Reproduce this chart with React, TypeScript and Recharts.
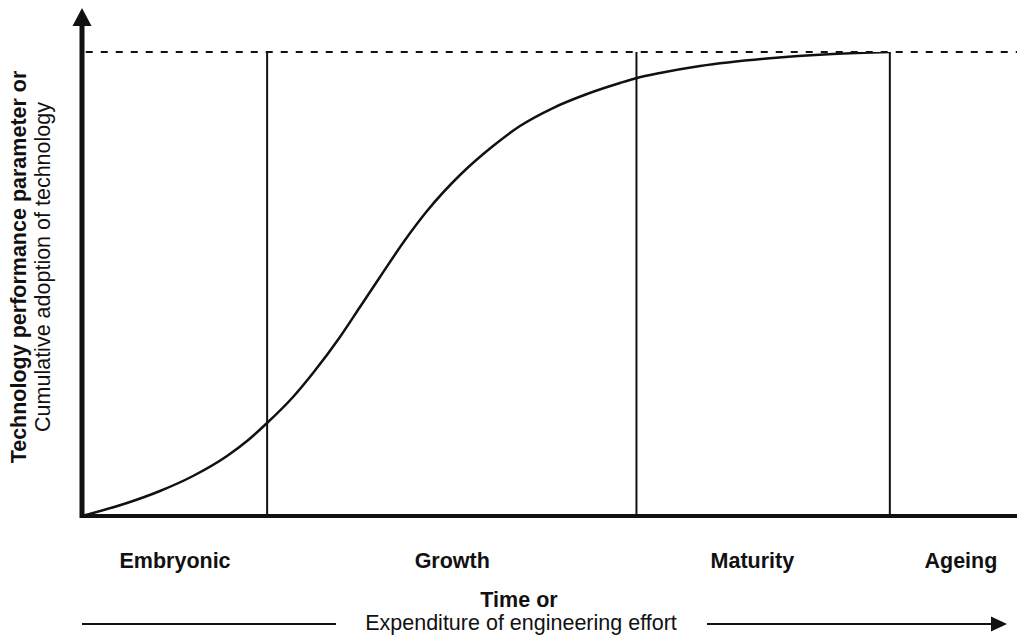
import React from 'react';
import { LineChart, Line, XAxis, YAxis, ReferenceLine } from 'recharts';

// S-curve: time / effort (0..100) vs performance (0..100)
const curveX = [0, 4.81, 8.34, 11.87, 15.51, 17.65, 19.79, 22.57, 24.71, 27.59, 29.73, 31.87, 34.55, 36.9, 40.43, 43.96, 46.84, 50.37, 54.01, 57.54, 59.36, 61.82, 66.1, 73.26, 80.32, 86.42];
const curveY = [0, 2.8, 5.39, 8.62, 12.93, 16.16, 20.04, 25.65, 30.82, 38.58, 45.04, 51.51, 59.48, 65.73, 73.49, 79.74, 84.05, 87.93, 90.95, 93.32, 94.4, 95.47, 96.98, 98.6, 99.57, 100];

const phaseNames = ['Embryonic', 'Growth', 'Maturity', 'Ageing'];
const phaseCenters = [9.95, 39.6, 71.7, 94.0];
const phaseBoundaries = [19.8, 59.3, 86.4];
const plateauLevel = 100;
const yAxisTop = 109.5;

const yLabelBold = 'Technology performance parameter or';
const yLabelRegular = 'Cumulative adoption of technology';
const xLabelBold = 'Time or';
const xLabelRegular = 'Expenditure of engineering effort';

const data = curveX.map((x, i) => ({ x, y: curveY[i] }));

const FONT = '"Liberation Sans", Arial, Helvetica, sans-serif';
const INK = '#111';
const FS = 21.5;

const YAxisArrow = (p: any) => {
  const { x1, y1, x2, y2 } = p;
  return (
    <g>
      <line x1={x1} y1={y1 + 2} x2={x2} y2={y2 + 15} stroke={INK} strokeWidth={5} />
      <polygon points={`${x2},${y2} ${x2 - 9.5},${y2 + 18} ${x2 + 9.5},${y2 + 18}`} fill={INK} />
    </g>
  );
};

const PhaseTick = (p: any) => {
  const { x, y, index } = p;
  return (
    <text x={x} y={y + 52} textAnchor="middle" fontFamily={FONT} fontWeight="bold" fontSize={FS} fill={INK}>
      {phaseNames[index]}
    </text>
  );
};

export default function App() {
  return (
    <div style={{ position: 'absolute', left: 0, top: 0, width: 1017, height: 644, background: '#fff' }}>
      <LineChart width={1017} height={644} data={data} margin={{ top: 52, right: 0, bottom: 68, left: 82 }}>
        <XAxis
          dataKey="x"
          type="number"
          domain={[0, 100]}
          allowDataOverflow
          ticks={phaseCenters}
          interval={0}
          axisLine={false}
          tickLine={false}
          tickSize={0}
          tickMargin={0}
          height={60}
          tick={<PhaseTick />}
        />
        <YAxis type="number" domain={[0, 100]} allowDataOverflow hide />
        <ReferenceLine
          segment={[{ x: 0.4, y: plateauLevel }, { x: 100, y: plateauLevel }]}
          stroke={INK}
          strokeWidth={2}
          strokeDasharray="7 8"
          ifOverflow="visible"
        />
        {phaseBoundaries.map((b) => (
          <ReferenceLine
            key={b}
            segment={[{ x: b, y: 0 }, { x: b, y: plateauLevel }]}
            stroke={INK}
            strokeWidth={2}
            ifOverflow="visible"
          />
        ))}
        <ReferenceLine
          segment={[{ x: 0, y: 0 }, { x: 100, y: 0 }]}
          stroke={INK}
          strokeWidth={4}
          ifOverflow="visible"
        />
        <ReferenceLine
          segment={[{ x: 0, y: 0 }, { x: 0, y: yAxisTop }]}
          ifOverflow="visible"
          shape={YAxisArrow}
        />
        <Line
          dataKey="y"
          type="monotone"
          stroke={INK}
          strokeWidth={2.5}
          dot={false}
          activeDot={false}
          isAnimationActive={false}
        />
        <text x={519} y={607} textAnchor="middle" fontFamily={FONT} fontWeight="bold" fontSize={FS} fill={INK}>
          {xLabelBold}
        </text>
        <text x={521} y={630} textAnchor="middle" fontFamily={FONT} fontSize={FS} fill={INK}>
          {xLabelRegular}
        </text>
        <line x1={82} y1={624} x2={336} y2={624} stroke={INK} strokeWidth={2} />
        <line x1={707} y1={624} x2={994} y2={624} stroke={INK} strokeWidth={2} />
        <polygon points="1007,624 991,616.5 991,631.5" fill={INK} />
        <text
          transform="translate(26,267) rotate(-90)"
          textAnchor="middle"
          fontFamily={FONT}
          fontWeight="bold"
          fontSize={FS}
          fill={INK}
        >
          {yLabelBold}
        </text>
        <text
          transform="translate(50,267) rotate(-90)"
          textAnchor="middle"
          fontFamily={FONT}
          fontSize={FS}
          fill={INK}
        >
          {yLabelRegular}
        </text>
      </LineChart>
    </div>
  );
}
